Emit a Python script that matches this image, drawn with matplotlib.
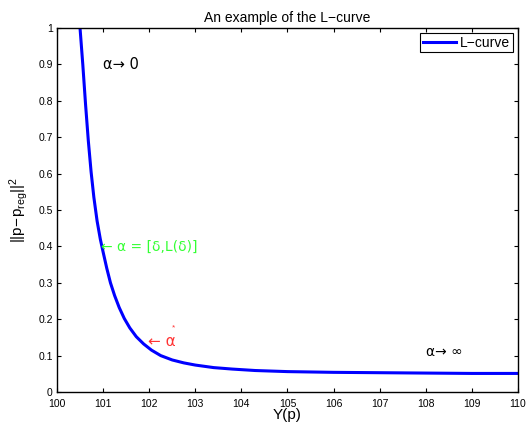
import matplotlib
matplotlib.use("Agg")
import matplotlib.pyplot as plt

plt.rcParams['font.family'] = ['Liberation Sans', 'DejaVu Sans']
plt.rcParams['mathtext.fontset'] = 'custom'
plt.rcParams['mathtext.rm'] = 'Liberation Sans'
plt.rcParams['mathtext.it'] = 'Liberation Sans'

# values
yp = [100.50, 100.56, 100.62, 100.68, 100.74, 100.80, 100.87, 100.94, 101.00,
      101.08, 101.16, 101.25, 101.35, 101.46, 101.58, 101.72, 101.88, 102.05,
      102.25, 102.50, 102.75, 103.00, 103.40, 103.80, 104.30, 105.00, 106.00,
      107.00, 108.00, 109.00, 110.00]
resid = [1.000, 0.900, 0.790, 0.690, 0.605, 0.535, 0.470, 0.420, 0.385,
         0.340, 0.300, 0.265, 0.232, 0.202, 0.176, 0.152, 0.132, 0.115,
         0.100, 0.088, 0.080, 0.074, 0.067, 0.063, 0.059, 0.056, 0.054,
         0.053, 0.052, 0.051, 0.051]

fig = plt.figure(figsize=(5.29, 4.23), dpi=100)
ax = fig.add_axes([0.1077, 0.0733, 0.8715, 0.8605])
ax.plot(yp, resid, color='#0000ff', lw=2.2, label='L\u2212curve')

ax.set_xlim(100, 110)
ax.set_ylim(0, 1)
ax.set_xticks(range(100, 111))
ax.set_yticks([0, 0.1, 0.2, 0.3, 0.4, 0.5, 0.6, 0.7, 0.8, 0.9, 1])
ax.set_yticklabels(['0', '0.1', '0.2', '0.3', '0.4', '0.5', '0.6', '0.7', '0.8', '0.9', '1'])
ax.tick_params(direction='in', top=True, right=True, labelsize=7.5, length=3, width=0.8)
ax.tick_params(axis='x', pad=5)
ax.tick_params(axis='y', pad=3)
for s in ax.spines.values():
    s.set_linewidth(1.0)

ax.set_title('An example of the L\u2212curve', fontsize=10, pad=4)
ax.set_xlabel('Y(p)', fontsize=11, labelpad=-1)
ax.set_ylabel(r'$||\mathrm{p}\!-\!\mathrm{p}_{\mathrm{reg}}||^2$', fontsize=11, labelpad=6)

arrow_font = ['DejaVu Sans']
ax.text(101.0, 0.9, '\u03b1\u2192 0', fontsize=10.5, va='center', ha='left',
        family=arrow_font)
ax.text(100.96, 0.4, '\u2190 \u03b1 = [\u03b4,L(\u03b4)]', fontsize=10, color='#33ff33',
        va='center', ha='left', family=arrow_font)
ax.text(101.98, 0.14, '\u2190 \u03b1', fontsize=11, color='#ff3333',
        va='center', ha='left', family=arrow_font)
ax.text(102.5, 0.175, '*', fontsize=6, color='#ff3333', va='center', ha='left')
ax.text(108.0, 0.11, '\u03b1\u2192 \u221e', fontsize=10, va='center', ha='left',
        family=arrow_font)

leg = ax.legend(loc='upper right', fontsize=10, fancybox=False, framealpha=1,
                edgecolor='black', borderpad=0.2, handlelength=2.4,
                handletextpad=0.3, borderaxespad=0.35)
leg.get_frame().set_linewidth(0.8)

fig.savefig('out.png', dpi=100)
